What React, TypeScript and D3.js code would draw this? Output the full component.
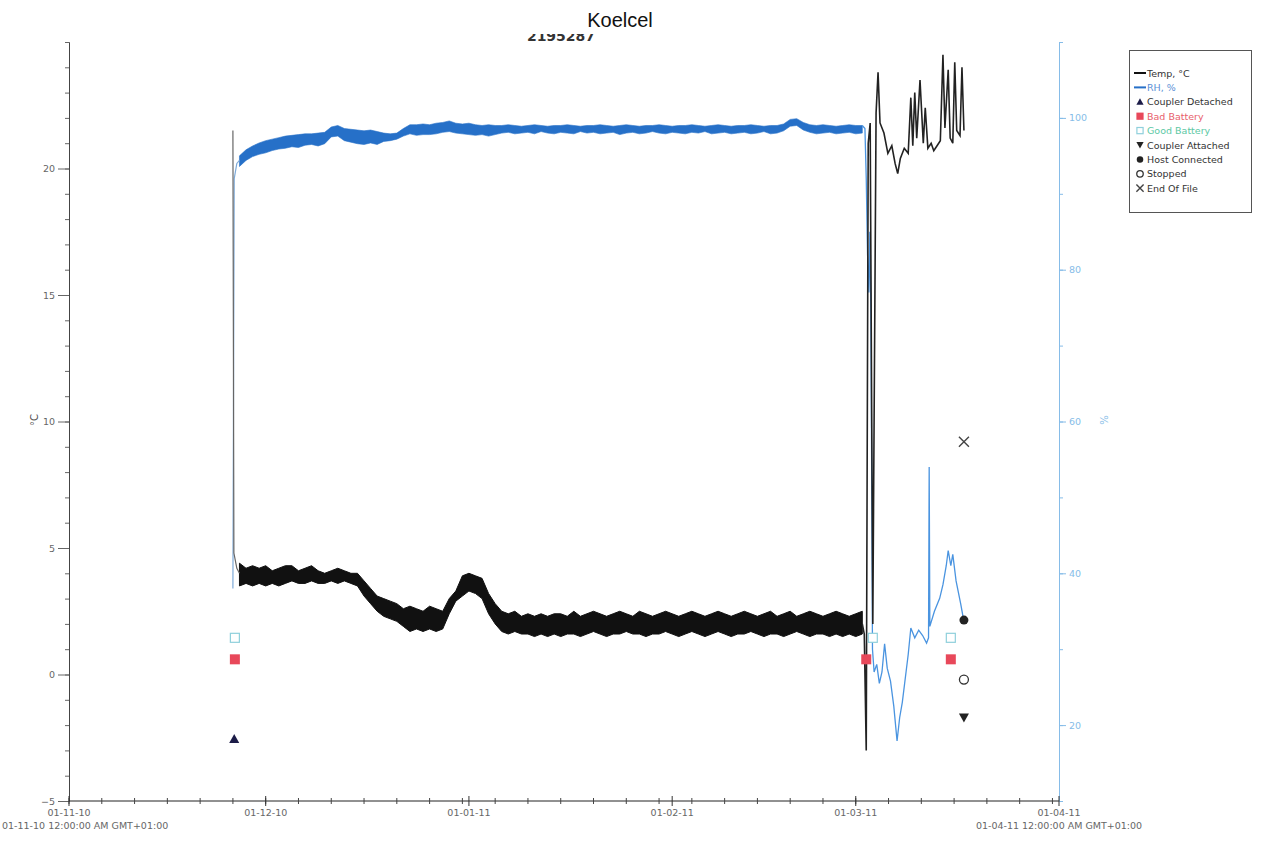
import React, { useEffect, useRef } from "react";
import * as d3 from "d3";

// time axis: days counted from 01-11-2010
const startDate = Date.UTC(2010, 10, 1);
const endDate = Date.UTC(2011, 3, 1);
const DAY = 864e5;

// fridge period: one min/max reading per day, starting at day 26
const bandStartDay = 26;

const tempHigh = [
  4.4, 4.2, 4.3, 4.2, 4.3, 4.1, 4.2, 4.3, 4.3, 4.1,
  4.2, 4.3, 4.1, 4.0, 4.1, 4.2, 4.1, 4.0, 4.0, 3.7,
  3.4, 3.1, 3.0, 2.9, 2.8, 2.6, 2.7, 2.6, 2.5, 2.7,
  2.6, 2.5, 3.0, 3.3, 3.9, 4.0, 3.9, 3.8, 3.2, 2.8,
  2.5, 2.4, 2.5, 2.3, 2.4, 2.3, 2.4, 2.3, 2.4, 2.4,
  2.3, 2.5, 2.3, 2.4, 2.5, 2.4, 2.3, 2.4, 2.5, 2.4,
  2.3, 2.5, 2.4, 2.3, 2.4, 2.5, 2.4, 2.3, 2.4, 2.5,
  2.4, 2.3, 2.4, 2.5, 2.4, 2.3, 2.4, 2.5, 2.4, 2.3,
  2.4, 2.5, 2.3, 2.4, 2.5, 2.3, 2.4, 2.5, 2.4, 2.3,
  2.4, 2.5, 2.4, 2.3, 2.4, 2.5,
];
const tempLow = [
  3.5, 3.6, 3.5, 3.6, 3.5, 3.6, 3.5, 3.6, 3.7, 3.6,
  3.6, 3.7, 3.6, 3.6, 3.7, 3.6, 3.7, 3.6, 3.5, 3.1,
  2.8, 2.5, 2.3, 2.2, 2.1, 1.9, 1.7, 1.8, 1.7, 1.8,
  1.7, 1.8, 2.4, 2.9, 3.1, 3.3, 3.2, 3.0, 2.4, 2.0,
  1.7, 1.6, 1.7, 1.6, 1.6, 1.5, 1.6, 1.5, 1.6, 1.5,
  1.6, 1.6, 1.5, 1.6, 1.7, 1.6, 1.5, 1.6, 1.6, 1.7,
  1.6, 1.6, 1.5, 1.6, 1.6, 1.7, 1.6, 1.5, 1.6, 1.7,
  1.6, 1.5, 1.6, 1.7, 1.6, 1.5, 1.6, 1.6, 1.7, 1.6,
  1.5, 1.6, 1.6, 1.5, 1.6, 1.7, 1.6, 1.5, 1.6, 1.6,
  1.5, 1.6, 1.5, 1.6, 1.5, 1.6,
];
const rhHigh = [
  95.0, 95.8, 96.3, 96.7, 97.0, 97.2, 97.4, 97.6, 97.7, 97.8,
  97.9, 97.9, 98.0, 98.1, 98.8, 99.0, 98.6, 98.5, 98.4, 98.3,
  98.4, 98.2, 98.0, 97.9, 98.0, 98.6, 99.1, 99.1, 99.2, 99.1,
  99.3, 99.4, 99.6, 99.3, 99.2, 99.3, 99.1, 99.0, 99.1, 99.0,
  99.0, 99.1, 99.0, 98.9, 99.0, 99.1, 99.0, 98.9, 99.0, 99.0,
  99.1, 99.0, 98.9, 99.0, 99.0, 99.1, 99.0, 98.9, 99.0, 99.1,
  99.0, 98.9, 99.0, 99.0, 99.1, 99.0, 98.9, 99.0, 99.0, 99.1,
  99.0, 98.9, 99.0, 99.1, 99.0, 98.9, 99.0, 99.0, 99.1, 99.0,
  98.9, 99.0, 99.0, 99.2, 99.8, 99.9, 99.4, 99.1, 99.0, 99.1,
  99.0, 98.9, 99.0, 99.1, 99.0, 99.0,
];
const rhLow = [
  93.6, 94.4, 94.9, 95.2, 95.4, 95.7, 95.9, 96.0, 96.2, 96.1,
  96.4, 96.5, 96.3, 96.6, 97.5, 97.6, 97.0, 96.8, 96.6, 96.5,
  96.7, 96.5, 96.9, 97.0, 97.2, 97.6, 97.9, 97.7, 97.8, 97.8,
  97.9, 98.1, 98.2, 98.0, 97.9, 97.8, 97.7, 97.8, 97.6, 97.8,
  98.0, 98.1, 97.9, 98.0, 98.1, 97.9, 98.2, 98.0, 97.9, 98.1,
  98.0, 97.9, 98.2, 98.0, 98.1, 97.9, 98.0, 98.1, 97.8, 98.0,
  98.1, 97.9, 98.0, 98.2, 98.0, 97.9, 98.1, 98.0, 97.9, 98.1,
  98.0, 98.2, 97.9, 98.0, 98.1, 97.9, 98.0, 98.1, 97.9, 98.0,
  98.2, 97.9, 98.0, 98.3, 98.9, 99.0, 98.4, 98.1, 97.9, 98.0,
  98.1, 97.9, 98.0, 98.1, 97.9, 98.0,
];

// before / after the fridge period
const tempHeadDays = [25.0, 25.15, 25.6, 26.0];
const tempHeadVals = [21.5, 4.8, 4.2, 4.0];
const tempTailDays = [
  121.0, 121.3, 121.6, 121.9, 122.2, 122.6, 123.1, 123.4, 123.7, 124.3,
  124.9, 125.5, 126.0, 126.4, 126.8, 127.4, 128.0, 128.4, 128.7, 129.0,
  129.3, 129.8, 130.3, 130.6, 131.0, 131.5, 131.9, 132.4, 132.9, 133.3,
  133.6, 134.1, 134.4, 134.8, 135.1, 135.4, 135.9, 136.2, 136.5,
];
const tempTailVals = [
  2.0, 1.6, -3.0, 21.0, 21.8, 2.0, 22.2, 23.8, 21.8, 21.4,
  20.6, 20.9, 20.2, 19.8, 20.4, 20.8, 20.6, 22.8, 20.9, 23.0,
  21.2, 23.5, 21.0, 22.4, 20.8, 21.0, 20.7, 20.9, 21.1, 24.5,
  21.6, 23.9, 21.2, 21.0, 24.2, 21.5, 21.3, 24.0, 21.5,
];
const rhHeadDays = [25.0, 25.2, 25.6, 26.0];
const rhHeadVals = [38, 92, 94, 94.4];
const rhTailDays = [
  121.0, 121.4, 121.6, 121.8, 122.0, 122.15, 122.3, 122.45, 122.55, 122.8,
  123.2, 123.6, 124.0, 124.4, 124.8, 125.3, 125.8, 126.3, 126.7, 127.1,
  128.0, 128.4, 129.0, 129.6, 130.2, 130.8, 131.1, 131.2, 131.3, 132.0,
  132.8, 133.3, 133.8, 134.1, 134.5, 134.8, 135.3, 136.0, 136.3, 136.5,
];
const rhTailVals = [
  99.0, 98.6, 92, 82, 77, 85, 75, 50, 30, 27,
  28, 25.5, 27, 30.7, 27.5, 25.8, 22.5, 17.9, 21, 23,
  29.3, 32.8, 31.5, 32.5, 31.8, 30.8, 31.5, 54, 33, 35,
  36.7, 38.5, 41, 43, 41, 42.5, 39, 36, 34.6, 33.5,
];

// event markers, plotted against the °C axis
const eventKinds = [
  "Good Battery", "Good Battery", "Good Battery",
  "Bad Battery", "Bad Battery", "Bad Battery",
  "Coupler Detached", "Host Connected", "Stopped", "Coupler Attached", "End Of File",
];
const eventDays = [25.3, 122.6, 134.5, 25.3, 121.6, 134.5, 25.2, 136.5, 136.5, 136.5, 136.5];
const eventVals = [1.45, 1.45, 1.45, 0.6, 0.6, 0.6, -2.55, 2.15, -0.2, -1.7, 9.2];

const legendLabels = [
  "Temp, °C", "RH, %", "Coupler Detached", "Bad Battery", "Good Battery",
  "Coupler Attached", "Host Connected", "Stopped", "End Of File",
];

const tempTicks = [-5, 0, 5, 10, 15, 20];
const rhTicks = [20, 40, 60, 80, 100];

const BLUE = "#2670c8";
const AXIS_BLUE = "#86bce8";
const FONT = "DejaVu Sans, sans-serif";

const toDate = (d: number) => new Date(startDate + d * DAY);

function symbol(g: any, kind: string, cx: number, cy: number, s: number) {
  if (kind === "Coupler Detached") {
    g.append("path").attr("d", `M${cx - s},${cy + s * 0.8}L${cx + s},${cy + s * 0.8}L${cx},${cy - s}Z`).attr("fill", "#1c1c48");
  } else if (kind === "Coupler Attached") {
    g.append("path").attr("d", `M${cx - s},${cy - s * 0.8}L${cx + s},${cy - s * 0.8}L${cx},${cy + s}Z`).attr("fill", "#222");
  } else if (kind === "Bad Battery") {
    g.append("rect").attr("x", cx - s).attr("y", cy - s).attr("width", 2 * s).attr("height", 2 * s).attr("fill", "#e8485a");
  } else if (kind === "Good Battery") {
    g.append("rect").attr("x", cx - s + 0.5).attr("y", cy - s + 0.5).attr("width", 2 * s - 1).attr("height", 2 * s - 1)
      .attr("fill", "#fff").attr("stroke", "#8fd0dc").attr("stroke-width", 1.2);
  } else if (kind === "Host Connected") {
    g.append("circle").attr("cx", cx).attr("cy", cy).attr("r", s * 0.9).attr("fill", "#222");
  } else if (kind === "Stopped") {
    g.append("circle").attr("cx", cx).attr("cy", cy).attr("r", s * 0.9).attr("fill", "none").attr("stroke", "#333").attr("stroke-width", 1.3);
  } else if (kind === "End Of File") {
    g.append("path").attr("d", `M${cx - s},${cy - s}L${cx + s},${cy + s}M${cx - s},${cy + s}L${cx + s},${cy - s}`)
      .attr("stroke", "#444").attr("stroke-width", 1.4);
  }
}

export default function App() {
  const ref = useRef<SVGSVGElement>(null);

  useEffect(() => {
    const svg = d3.select(ref.current);
    svg.selectAll("*").remove();

    const x = d3.scaleUtc().domain([new Date(startDate), new Date(endDate)]).range([69, 1059]);
    const yT = d3.scaleLinear().domain([-5, 25]).range([801, 42]);
    const yR = d3.scaleLinear().domain([10, 110]).range([801, 42]);

    // title + half hidden serial number
    svg.append("text").attr("x", 620).attr("y", 27).attr("text-anchor", "middle")
      .attr("font-family", "Liberation Sans, Arial, sans-serif").attr("font-size", 20).attr("fill", "#111").text("Koelcel");
    svg.append("clipPath").attr("id", "serialClip").append("rect").attr("x", 500).attr("y", 34).attr("width", 140).attr("height", 12);
    svg.append("text").attr("x", 561).attr("y", 41).attr("text-anchor", "middle").attr("clip-path", "url(#serialClip)")
      .attr("font-family", FONT).attr("font-weight", "bold").attr("font-size", 14).attr("fill", "#333").text("2195287");

    // ---- axes ----
    const axisText = (sel: any) => sel.selectAll("text").attr("font-family", FONT).attr("font-size", 9.5);

    svg.append("g").attr("transform", "translate(69,0)")
      .call(d3.axisLeft(yT).ticks(30).tickSize(4).tickFormat(() => ""))
      .call((g: any) => g.select(".domain").attr("stroke", "#444"))
      .call((g: any) => g.selectAll(".tick line").attr("stroke", "#666"));
    svg.append("g").attr("transform", "translate(69,0)")
      .call(d3.axisLeft(yT).tickValues(tempTicks).tickSize(11).tickFormat(d3.format("d")))
      .call((g: any) => g.select(".domain").remove())
      .call((g: any) => g.selectAll(".tick line").attr("stroke", "#666"))
      .call(axisText)
      .call((g: any) => g.selectAll("text").attr("fill", "#666"));
    svg.append("text").attr("transform", "translate(38,420) rotate(-90)").attr("text-anchor", "middle")
      .attr("font-family", FONT).attr("font-size", 10).attr("fill", "#555").text("°C");

    svg.append("g").attr("transform", "translate(1059,0)")
      .call(d3.axisRight(yR).ticks(10).tickSize(4).tickFormat(() => ""))
      .call((g: any) => g.select(".domain").attr("stroke", AXIS_BLUE))
      .call((g: any) => g.selectAll(".tick line").attr("stroke", AXIS_BLUE));
    svg.append("g").attr("transform", "translate(1059,0)")
      .call(d3.axisRight(yR).tickValues(rhTicks).tickSize(7).tickFormat(d3.format("d")))
      .call((g: any) => g.select(".domain").remove())
      .call((g: any) => g.selectAll(".tick line").attr("stroke", AXIS_BLUE))
      .call(axisText)
      .call((g: any) => g.selectAll("text").attr("fill", AXIS_BLUE));
    svg.append("text").attr("transform", "translate(1108,420) rotate(-90)").attr("text-anchor", "middle")
      .attr("font-family", FONT).attr("font-size", 10).attr("fill", AXIS_BLUE).text("%");

    // time axis: ticks every 5 days, labels on month starts
    const bottom = svg.append("g");
    bottom.append("line").attr("x1", 69).attr("x2", 1059).attr("y1", 801).attr("y2", 801).attr("stroke", "#222");
    const minorTicks = d3.range(startDate, endDate + 1, 5 * DAY).map((t) => new Date(t));
    bottom.selectAll(".minor").data(minorTicks).enter().append("line")
      .attr("x1", (d: Date) => x(d)).attr("x2", (d: Date) => x(d)).attr("y1", 798).attr("y2", 804)
      .attr("stroke", "#444");
    const months = d3.utcMonth.range(new Date(startDate), new Date(endDate + 1));
    bottom.selectAll(".major").data(months).enter().append("line")
      .attr("x1", (d: Date) => x(d)).attr("x2", (d: Date) => x(d)).attr("y1", 796).attr("y2", 806)
      .attr("stroke", "#333");
    const fmt = d3.utcFormat("%d-%m-%y");
    bottom.selectAll(".lab").data(months).enter().append("text")
      .attr("x", (d: Date) => x(d)).attr("y", 816).attr("text-anchor", "middle")
      .attr("font-family", FONT).attr("font-size", 9.5).attr("fill", "#666").text((d: Date) => fmt(d));
    // full date/time under first and last tick
    bottom.append("text").attr("x", 2).attr("y", 829).attr("text-anchor", "start")
      .attr("font-family", FONT).attr("font-size", 9.5).attr("fill", "#666")
      .text(fmt(new Date(startDate)) + " 12:00:00 AM GMT+01:00");
    bottom.append("text").attr("x", x(new Date(endDate))).attr("y", 829).attr("text-anchor", "middle")
      .attr("font-family", FONT).attr("font-size", 9.5).attr("fill", "#666")
      .text(fmt(new Date(endDate)) + " 12:00:00 AM GMT+01:00");

    // ---- series ----
    const band = tempHigh.map((h, i) => ({ d: bandStartDay + i, hi: h, lo: tempLow[i], rhHi: rhHigh[i], rhLo: rhLow[i] }));

    const lineT = d3.line<[number, number]>().x((p) => x(toDate(p[0]))).y((p) => yT(p[1]));
    const lineR = d3.line<[number, number]>().x((p) => x(toDate(p[0]))).y((p) => yR(p[1]));

    // RH
    svg.append("path")
      .datum(band)
      .attr("d", d3.area<any>().x((p) => x(toDate(p.d))).y0((p) => yR(p.rhLo)).y1((p) => yR(p.rhHi)) as any)
      .attr("fill", BLUE).attr("stroke", BLUE).attr("stroke-width", 0.6);
    svg.append("path").datum(rhHeadDays.map((d, i) => [d, rhHeadVals[i]] as [number, number]))
      .attr("d", lineR).attr("fill", "none").attr("stroke", "#7eaad8").attr("stroke-width", 1.2);
    svg.append("path").datum(rhTailDays.map((d, i) => [d, rhTailVals[i]] as [number, number]))
      .attr("d", lineR).attr("fill", "none").attr("stroke", "#4a94e0").attr("stroke-width", 1.3);

    // Temperature
    svg.append("path")
      .datum(band)
      .attr("d", d3.area<any>().x((p) => x(toDate(p.d))).y0((p) => yT(p.lo)).y1((p) => yT(p.hi)) as any)
      .attr("fill", "#111").attr("stroke", "#111").attr("stroke-width", 1).attr("stroke-linejoin", "bevel");
    svg.append("path").datum(tempHeadDays.map((d, i) => [d, tempHeadVals[i]] as [number, number]))
      .attr("d", lineT).attr("fill", "none").attr("stroke", "#666").attr("stroke-width", 1.2);
    svg.append("path").datum(tempTailDays.map((d, i) => [d, tempTailVals[i]] as [number, number]))
      .attr("d", lineT).attr("fill", "none").attr("stroke", "#222").attr("stroke-width", 1.6);

    // events
    const ev = svg.append("g");
    eventKinds.forEach((k, i) => symbol(ev, k, x(toDate(eventDays[i])), yT(eventVals[i]), 5));

    // ---- legend ----
    const lg = svg.append("g");
    lg.append("rect").attr("x", 1129.5).attr("y", 50.5).attr("width", 122).attr("height", 162)
      .attr("fill", "#fff").attr("stroke", "#555");
    const textColors: Record<string, string> = {
      "RH, %": "#5b8fd6", "Bad Battery": "#e8606c", "Good Battery": "#5cc8a4",
    };
    legendLabels.forEach((label, i) => {
      const cy = 73 + i * 14.4;
      if (i < 2) {
        lg.append("line").attr("x1", 1134).attr("x2", 1146).attr("y1", cy).attr("y2", cy)
          .attr("stroke", i === 0 ? "#111" : BLUE).attr("stroke-width", 2);
      } else {
        symbol(lg, label, 1140, cy, 3.6);
      }
      lg.append("text").attr("x", 1147).attr("y", cy + 3.5)
        .attr("font-family", FONT).attr("font-size", 9.5).attr("fill", textColors[label] || "#333").text(label);
    });
  }, []);

  return (
    <svg
      ref={ref}
      width={1261}
      height={852}
      style={{ position: "absolute", left: 0, top: 0, background: "#fff" }}
    />
  );
}
